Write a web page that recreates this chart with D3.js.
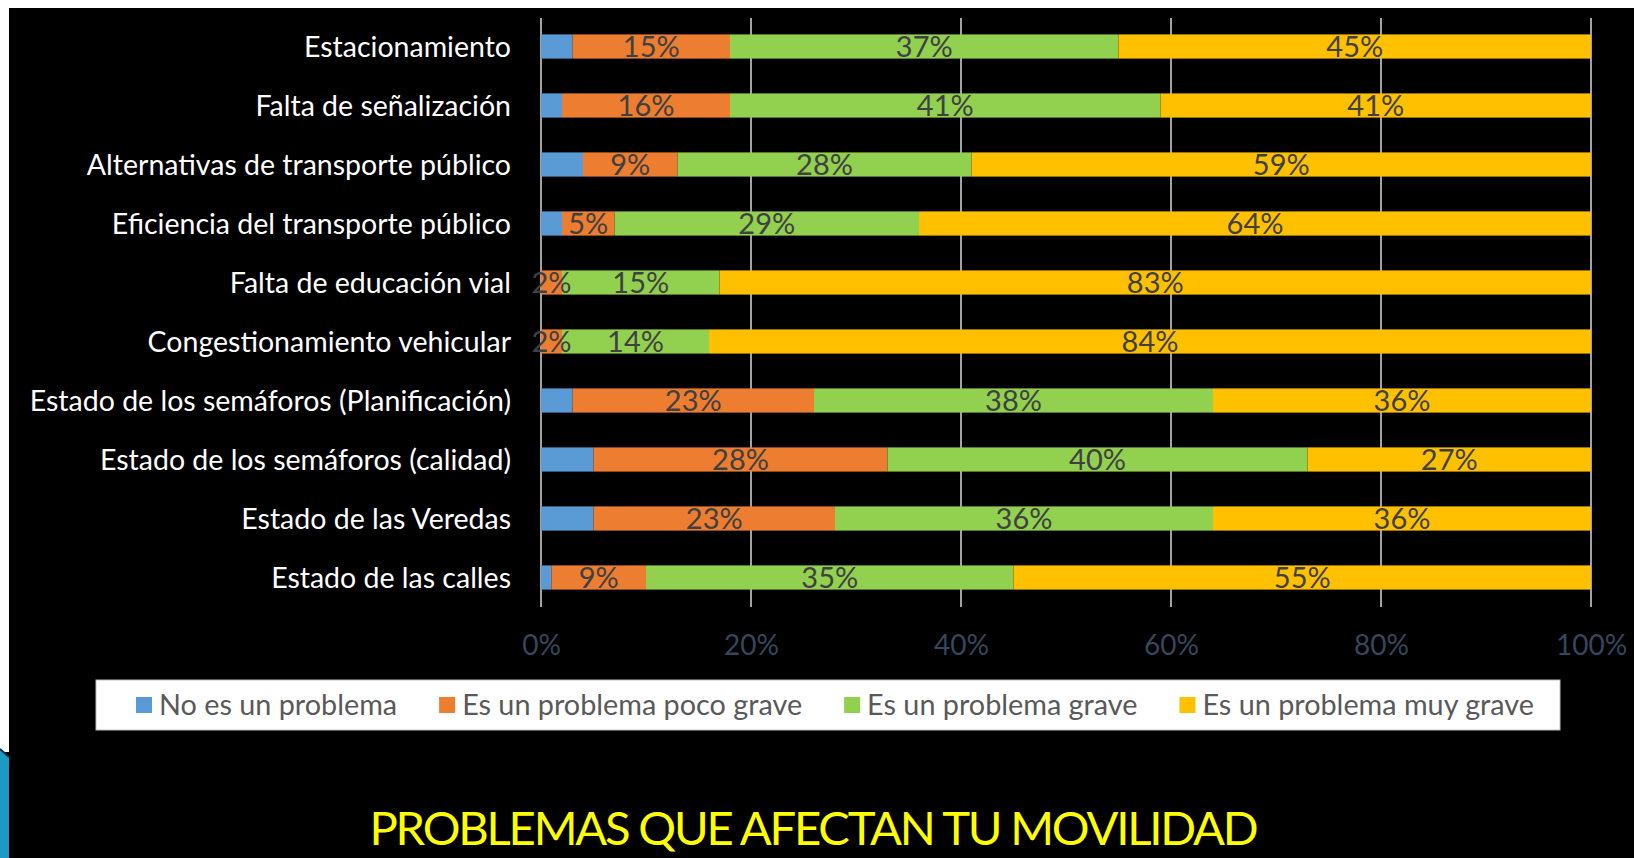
<!DOCTYPE html>
<html lang="es">
<head>
<meta charset="UTF-8">
<title>Problemas que afectan tu movilidad</title>
<script src="https://cdn.jsdelivr.net/npm/d3@7"></script>
<style>
  html, body { margin: 0; padding: 0; background: #000; }
  svg { display: block; font-family: Lato, "Open Sans", sans-serif; }
</style>
</head>
<body>
<svg id="chart" width="1634" height="858"></svg>
<script>
// categorias (de arriba hacia abajo)
var categories = [
  "Estacionamiento",
  "Falta de señalización",
  "Alternativas de transporte público",
  "Eficiencia del transporte público",
  "Falta de educación vial",
  "Congestionamiento vehicular",
  "Estado de los semáforos (Planificación)",
  "Estado de los semáforos (calidad)",
  "Estado de las Veredas",
  "Estado de las calles"
];
// series (%)
var noProblema = [3, 2, 4, 2, 0, 0, 3, 5, 5, 1];
var pocoGrave  = [15, 16, 9, 5, 2, 2, 23, 28, 23, 9];
var grave      = [37, 41, 28, 29, 15, 14, 38, 40, 36, 35];
var muyGrave   = [45, 41, 59, 64, 83, 84, 36, 27, 36, 55];

var seriesNames = ["No es un problema", "Es un problema poco grave", "Es un problema grave", "Es un problema muy grave"];
var seriesColors = ["#5B9BD5", "#ED7D31", "#92D050", "#FFC000"];
var labelled = [false, true, true, true]; // la serie azul no lleva etiqueta
var tickValues = [0, 20, 40, 60, 80, 100];
var title = "PROBLEMAS QUE AFECTAN TU MOVILIDAD";

var svg = d3.select("#chart");

// la fuente original es tipo Calibri: ajustar el tamaño para igualar anchos
var probe = svg.append("text").attr("font-size", 100).text("Estacionamiento");
var fontK = 678.9 / probe.node().getComputedTextLength();
probe.remove();
function fs(px) { return px * fontK; }

// marco de la diapositiva
svg.append("rect").attr("x", 0).attr("y", 0).attr("width", 1634).attr("height", 8).attr("fill", "#fff");
svg.append("rect").attr("x", 0).attr("y", 0).attr("width", 9).attr("height", 752).attr("fill", "#fff");
svg.append("polygon").attr("points", "0,749 9,757 9,858 0,858").attr("fill", "#1C9AC4");
svg.append("line").attr("x1", 0).attr("y1", 749).attr("x2", 9).attr("y2", 757)
  .attr("stroke", "#0b2f44").attr("stroke-width", 2);

var table = categories.map(function (c, i) {
  return { cat: c, s0: noProblema[i], s1: pocoGrave[i], s2: grave[i], s3: muyGrave[i] };
});
var keys = ["s0", "s1", "s2", "s3"];
var stacked = d3.stack().keys(keys)(table);

var x = d3.scaleLinear().domain([0, 100]).range([541, 1591]);
var y = d3.scaleBand().domain(categories).range([17, 607])
  .paddingInner(0.59).paddingOuter(0.295);

// rejilla
svg.append("g").selectAll("line")
  .data(tickValues)
  .enter().append("line")
  .attr("x1", function (d) { return x(d); })
  .attr("x2", function (d) { return x(d); })
  .attr("y1", 18).attr("y2", 607)
  .attr("stroke", "#D9D9D9").attr("stroke-width", 1.5);

// barras
var layers = svg.append("g").selectAll("g")
  .data(stacked)
  .enter().append("g")
  .attr("fill", function (d, i) { return seriesColors[i]; });

layers.selectAll("rect")
  .data(function (d) { return d; })
  .enter().append("rect")
  .attr("x", function (d) { return x(d[0]); })
  .attr("width", function (d) { return x(d[1]) - x(d[0]); })
  .attr("y", function (d) { return y(d.data.cat); })
  .attr("height", y.bandwidth());

// etiquetas de datos
stacked.forEach(function (layer, i) {
  if (!labelled[i]) return;
  svg.append("g").selectAll("text")
    .data(layer.filter(function (d) { return d[1] - d[0] > 0; }))
    .enter().append("text")
    .attr("x", function (d) { return (x(d[0]) + x(d[1])) / 2; })
    .attr("y", function (d) { return y(d.data.cat) + y.bandwidth() / 2; })
    .attr("dy", "0.36em")
    .attr("text-anchor", "middle")
    .attr("font-size", fs(31))
    .attr("fill", "#404040")
    .text(function (d) { return (d[1] - d[0]) + "%"; });
});

// eje de categorias
var yAxis = svg.append("g")
  .attr("transform", "translate(511,0)")
  .call(d3.axisLeft(y).tickSize(0).tickPadding(0));
yAxis.select(".domain").remove();
yAxis.selectAll("text")
  .attr("font-size", fs(30.5))
  .attr("font-family", "Lato, 'Open Sans', sans-serif")
  .attr("fill", "#fff")
  .attr("dy", "0.36em");

// eje horizontal (solo etiquetas)
var xAxis = svg.append("g")
  .attr("transform", "translate(0,632)")
  .call(d3.axisBottom(x).tickValues(tickValues).tickSize(0).tickPadding(0)
    .tickFormat(function (d) { return d + "%"; }));
xAxis.select(".domain").remove();
xAxis.selectAll("text")
  .attr("font-size", fs(30))
  .attr("font-family", "Lato, 'Open Sans', sans-serif")
  .attr("fill", "#36465C")
  .attr("dy", "0.36em")
  .attr("y", 13);

// leyenda
svg.append("rect")
  .attr("x", 96).attr("y", 680).attr("width", 1464).attr("height", 50)
  .attr("fill", "#fff").attr("stroke", "#BFBFBF");
var lx = 136;
seriesNames.forEach(function (name, i) {
  svg.append("rect")
    .attr("x", lx).attr("y", 697).attr("width", 16).attr("height", 16)
    .attr("fill", seriesColors[i]);
  var t = svg.append("text")
    .attr("x", lx + 23).attr("y", 705).attr("dy", "0.36em")
    .attr("font-size", fs(30.8))
    .attr("fill", "#595959")
    .text(name);
  lx += 23 + t.node().getComputedTextLength() + 42;
});

// titulo
svg.append("text")
  .attr("x", 813).attr("y", 845)
  .attr("text-anchor", "middle")
  .attr("font-size", fs(50.5))
  .attr("letter-spacing", -2.2)
  .attr("fill", "#FFFF00")
  .text(title);
</script>
</body>
</html>
